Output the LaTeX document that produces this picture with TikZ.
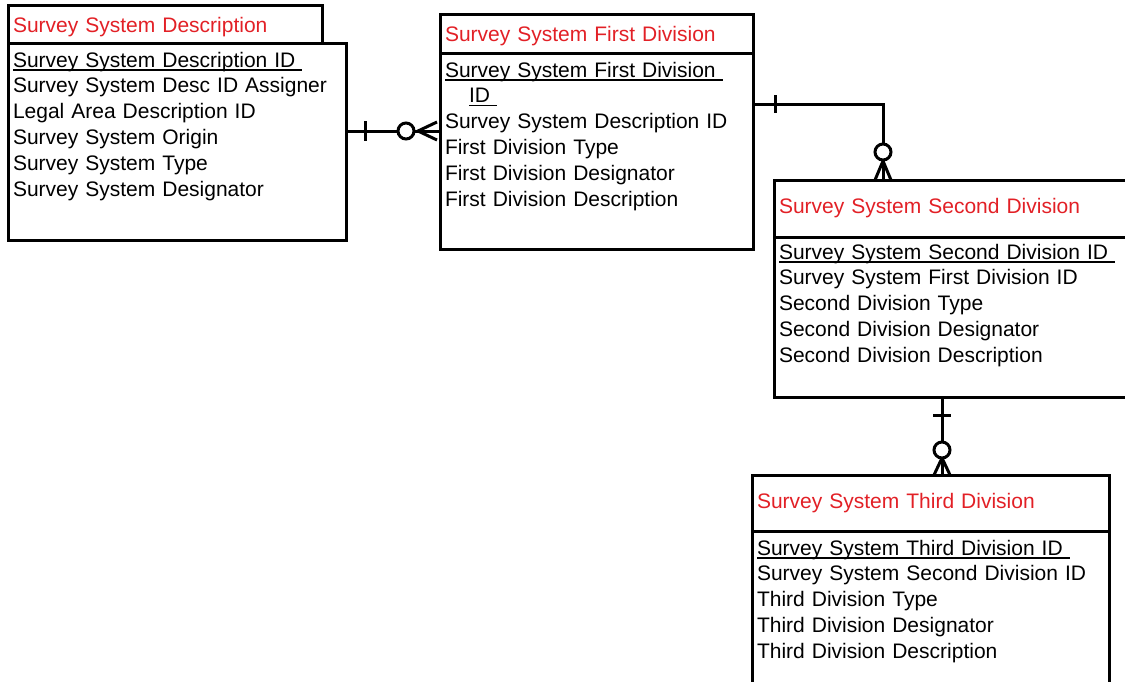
\documentclass[tikz,border=0pt]{standalone}
\usepackage{fontspec}
\setmainfont{Liberation Sans}
\usetikzlibrary{calc}
\definecolor{erred}{RGB}{226,32,38}
\newcommand{\keyattr}[1]{\setbox0\hbox{#1}\rlap{\rule[-3.5pt]{\wd0}{1.4pt}}#1}

\begin{document}
\begin{tikzpicture}[x=1pt,y=-1pt,line width=3pt,
  ttl/.style={draw,anchor=north west,outer sep=0pt,inner xsep=5pt,align=left,text=erred,font=\fontsize{21}{26}\selectfont,text width=#1},
  att/.style={draw,anchor=north west,outer sep=0pt,inner xsep=5pt,inner ysep=9pt,align=left,text height=15pt,font=\fontsize{21}{25.8}\selectfont,text width=#1},
  zero/.style={circle,draw,fill=white,inner sep=0pt,minimum size=16pt}]
\useasboundingbox (0,0) rectangle (1125,681);
\node[ttl=304pt,minimum height=38pt,text height=21pt] (sdt) at (8,5) {Survey System Description};
\node[att=328pt,text depth=164pt] (sdb) at (8,43) {\keyattr{Survey System Description ID\ }\\
Survey System Desc ID Assigner\\Legal Area Description ID\\Survey System Origin\\Survey System Type\\Survey System Designator};
\node[ttl=303pt,minimum height=39pt,text height=20pt] (fdt) at (440,14) {Survey System First Division};
\node[att=303pt,text depth=163pt] (fdb) at (440,53) {\keyattr{Survey System First Division\ }\\
\hspace*{24pt}\keyattr{ID\ }\\Survey System Description ID\\First Division Type\\First Division Designator\\First Division Description};
\node[ttl=346pt,minimum height=57pt] (sst) at (774,180) {Survey System Second Division};
\node[att=346pt,text depth=129pt,text height=13pt] (ssb) at (774,237) {\keyattr{Survey System Second Division ID\ }\\
Survey System First Division ID\\Second Division Type\\Second Division Designator\\Second Division Description};
\node[ttl=347pt,minimum height=56pt] (tdt) at (752,475) {Survey System Third Division};
\node[att=347pt,text depth=126pt] (tdb) at (752,531) {\keyattr{Survey System Third Division ID\ }\\
Survey System Second Division ID\\Third Division Type\\Third Division Designator\\Third Division Description};
% description -> first division
\draw (sdb.north east) ++(0,88) coordinate (r1a) -- (r1a -| fdb.west) coordinate (r1b);
\draw ($(r1a)+(19,-10)$) -- ++(0,20);
\draw ($(r1b)+(-3,-9)$) -- ($(r1b)+(-22,0)$) -- ($(r1b)+(-3,9)$);
\node[zero] (z1) at ($(r1b)+(-34,0)$) {};
% first -> second division
\draw (fdb.north east) ++(0,51) coordinate (r2a) -| ($(sst.north west)+(109,0)$) coordinate (r2b);
\draw ($(r2a)+(22,-9)$) -- ++(0,18);
\draw ($(r2b)+(-8,0)$) -- ($(r2b)+(0,-19)$) -- ($(r2b)+(8,0)$);
\node[zero] (z2) at ($(r2b)+(0,-28)$) {};
% second -> third division
\draw ($(ssb.south west)+(168,0)$) coordinate (r3a) -- (r3a |- tdt.north) coordinate (r3b);
\draw ($(r3a)+(-9,18)$) -- ++(18,0);
\draw ($(r3b)+(-8,0)$) -- ($(r3b)+(0,-17)$) -- ($(r3b)+(8,0)$);
\node[zero] (z3) at ($(r3b)+(0,-25)$) {};
\end{tikzpicture}
\end{document}
